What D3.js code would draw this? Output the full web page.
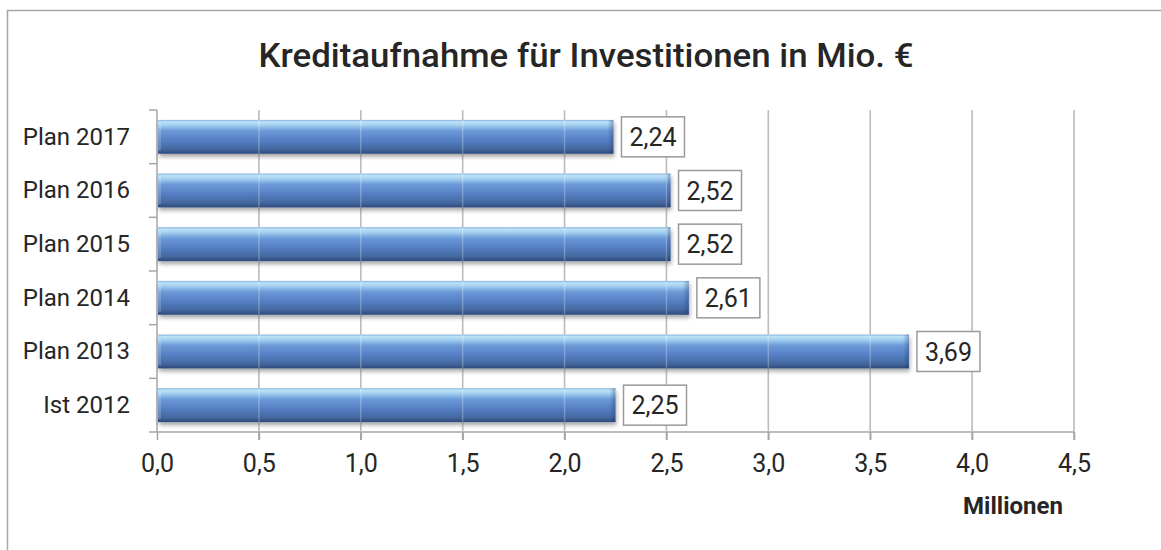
<!DOCTYPE html>
<html>
<head>
<meta charset="utf-8">
<script src="https://cdn.jsdelivr.net/npm/d3@7"></script>
<style>
  html, body { margin: 0; padding: 0; background: #fff; }
  svg { display: block; }
  text { font-family: Roboto, "Open Sans", sans-serif; fill: #262626; }
</style>
</head>
<body>
<svg id="chart" width="1161" height="550"></svg>
<script>
const title = "Kreditaufnahme für Investitionen in Mio. €";
const categories = ["Plan 2017", "Plan 2016", "Plan 2015", "Plan 2014", "Plan 2013", "Ist 2012"];
const values = [2.24, 2.52, 2.52, 2.61, 3.69, 2.25];
const valueLabels = ["2,24", "2,52", "2,52", "2,61", "3,69", "2,25"];
const xTicks = [0, 0.5, 1.0, 1.5, 2.0, 2.5, 3.0, 3.5, 4.0, 4.5];
const xTickLabels = ["0,0", "0,5", "1,0", "1,5", "2,0", "2,5", "3,0", "3,5", "4,0", "4,5"];
const axisTitle = "Millionen";

const svg = d3.select("#chart");
const W = 1161, H = 550;
const m = { left: 157, right: 1074, top: 110, bottom: 432 };

// outer frame
svg.append("rect").attr("x", 7.5).attr("y", 10.5).attr("width", W + 20).attr("height", H + 20)
  .attr("fill", "#fff").attr("stroke", "#a6a6a6").attr("stroke-width", 1.5);

const defs = svg.append("defs");
const grad = defs.append("linearGradient").attr("id", "barGrad")
  .attr("x1", 0).attr("y1", 0).attr("x2", 0).attr("y2", 1);
[[0, "#86b2e0"], [0.06, "#bde3f8"], [0.16, "#a0cdef"], [0.32, "#6c9ad8"], [0.6, "#557fc4"], [0.86, "#44689f"], [1, "#2d4a7e"]]
  .forEach(([o, c]) => grad.append("stop").attr("offset", o).attr("stop-color", c));
const endGrad = defs.append("linearGradient").attr("id", "endGrad")
  .attr("x1", 0).attr("y1", 0).attr("x2", 1).attr("y2", 0);
[[0, "rgba(30,50,100,0)"], [1, "rgba(30,50,100,0.35)"]]
  .forEach(([o, c]) => endGrad.append("stop").attr("offset", o).attr("stop-color", c));
const shadow = defs.append("filter").attr("id", "shadow")
  .attr("x", "-5%").attr("y", "-30%").attr("width", "110%").attr("height", "170%");
shadow.append("feDropShadow").attr("dx", 1).attr("dy", 3).attr("stdDeviation", 2)
  .attr("flood-color", "#000").attr("flood-opacity", 0.35);

const x = d3.scaleLinear().domain([0, 4.5]).range([m.left, m.right]);
const y = d3.scaleBand().domain(categories).range([m.top, m.bottom]).paddingInner(0.37).paddingOuter(0.185);
const yTicksScale = d3.scaleBand().domain(categories).range([m.top, m.bottom]);

// title
const t = svg.append("text").attr("x", 586).attr("y", 67).attr("text-anchor", "middle")
  .style("font-size", "34px").style("font-weight", 500).text(title);
t.attr("textLength", 655).attr("lengthAdjust", "spacingAndGlyphs");

// vertical gridlines (behind bars)
svg.append("g").selectAll("line").data(xTicks.slice(1)).join("line")
  .attr("x1", d => x(d)).attr("x2", d => x(d))
  .attr("y1", m.top).attr("y2", m.bottom + 8)
  .attr("stroke", "#a6a6a6").attr("stroke-width", 1.5);

// bottom axis
const xAxis = d3.axisBottom(x).tickValues(xTicks).tickFormat((d, i) => xTickLabels[i]).tickSize(8).tickPadding(14);
const gx = svg.append("g").attr("transform", `translate(0,${m.bottom})`).call(xAxis);
gx.select(".domain").attr("stroke", "#a6a6a6").attr("stroke-width", 1.5).attr("d", `M${m.left},0H${m.right}`);
gx.selectAll(".tick line").attr("stroke", "#a6a6a6").attr("stroke-width", 1.5);
gx.selectAll(".tick text").style("font-size", "25px").style("font-family", "Roboto").attr("fill", "#262626");

// left axis
const yAxis = d3.axisLeft(yTicksScale).tickSize(0).tickPadding(27);
const gy = svg.append("g").attr("transform", `translate(${m.left},0)`).call(yAxis);
gy.select(".domain").remove();
gy.selectAll(".tick text").style("font-size", "24px").style("font-family", "Roboto").attr("fill", "#262626");
// category boundary ticks
const boundaries = categories.map(c => yTicksScale(c)).concat([m.bottom]);
svg.append("g").selectAll("line").data(boundaries).join("line")
  .attr("x1", m.left - 8).attr("x2", m.left).attr("y1", d => d).attr("y2", d => d)
  .attr("stroke", "#a6a6a6").attr("stroke-width", 1.5);
svg.append("line").attr("x1", m.left).attr("x2", m.left).attr("y1", m.top).attr("y2", m.bottom)
  .attr("stroke", "#a6a6a6").attr("stroke-width", 1.5);

// bars
const bars = svg.append("g");
bars.selectAll("rect.bar").data(values).join("rect").attr("class", "bar")
  .attr("x", x(0) + 1).attr("y", (d, i) => y(categories[i]))
  .attr("width", d => x(d) - x(0) - 1).attr("height", y.bandwidth())
  .attr("fill", "url(#barGrad)").attr("filter", "url(#shadow)");
bars.selectAll("rect.end").data(values).join("rect").attr("class", "end")
  .attr("x", d => x(d) - 6).attr("y", (d, i) => y(categories[i]))
  .attr("width", 6).attr("height", y.bandwidth()).attr("fill", "url(#endGrad)");
bars.selectAll("rect.start").data(values).join("rect").attr("class", "start")
  .attr("x", x(0) + 1).attr("y", (d, i) => y(categories[i]) + 3)
  .attr("width", 3).attr("height", y.bandwidth() - 6).attr("fill", "rgba(255,255,255,0.18)");

// faint gridlines over bars
svg.append("g").selectAll("line").data(xTicks.slice(1)).join("line")
  .attr("x1", d => x(d)).attr("x2", d => x(d))
  .attr("y1", m.top).attr("y2", m.bottom)
  .attr("stroke", "#ffffff").attr("stroke-opacity", 0.25).attr("stroke-width", 1.5);

// value labels
const lbl = svg.append("g");
values.forEach((v, i) => {
  const cy = y(categories[i]) + y.bandwidth() / 2;
  const bx = x(v) + 8;
  lbl.append("rect").attr("x", bx).attr("y", cy - 20).attr("width", 63).attr("height", 40)
    .attr("fill", "#fff").attr("stroke", "#9a9a9a").attr("stroke-width", 1.5);
  lbl.append("text").attr("x", bx + 31.5).attr("y", cy + 9).attr("text-anchor", "middle")
    .style("font-size", "25px").text(valueLabels[i]);
});

// axis title
svg.append("text").attr("x", 1013).attr("y", 514).attr("text-anchor", "middle")
  .style("font-size", "24px").style("font-weight", 700).text(axisTitle);
</script>
</body>
</html>
